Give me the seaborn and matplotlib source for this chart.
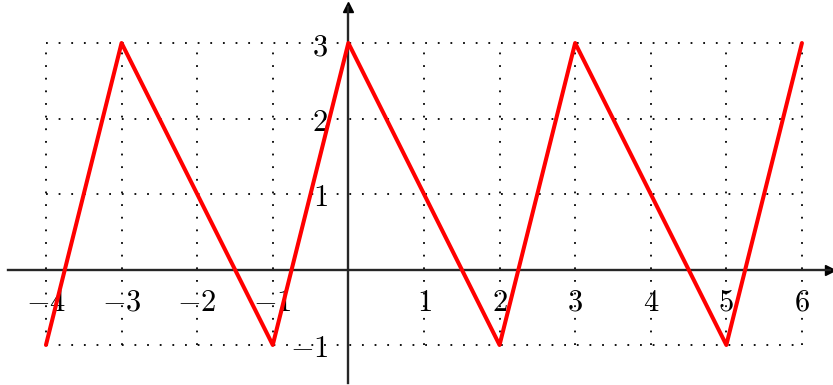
import matplotlib
matplotlib.use("Agg")
import matplotlib.pyplot as plt
import seaborn as sns
import pandas as pd

# zigzag vertices
x_vals = [-4, -3, -1, 0, 2, 3, 5, 6]
y_vals = [-1, 3, -1, 3, -1, 3, -1, 3]

x_ticks = [-4, -3, -2, -1, 1, 2, 3, 4, 5, 6]
y_ticks = [-1, 1, 2, 3]
grid_x = [-4, -3, -2, -1, 0, 1, 2, 3, 4, 5, 6]
grid_y = [-1, 0, 1, 2, 3]

sns.set_style("white")
plt.rcParams["mathtext.fontset"] = "cm"
plt.rcParams["font.family"] = ["DejaVu Serif"]

df = pd.DataFrame({"x": x_vals, "y": y_vals})

fig = plt.figure(figsize=(8.33, 3.85), dpi=100)
ax = fig.add_axes([0, 0, 1, 1])
ax.set_xlim(-4.608, 6.411)
ax.set_ylim(-1.53, 3.57)
ax.patch.set_alpha(0)

# dotted grid only over the data box
dot = (0, (1, 6))
ax.vlines(grid_x, min(grid_y), max(grid_y), colors="black", linewidth=1.3,
          linestyles=[dot], zorder=1)
ax.hlines(grid_y, min(grid_x), max(grid_x), colors="black", linewidth=1.3,
          linestyles=[dot], zorder=1)

sns.lineplot(data=df, x="x", y="y", color="red", linewidth=2.9, ax=ax,
             sort=False, zorder=3)

for s in ["top", "right"]:
    ax.spines[s].set_visible(False)
ax.spines["left"].set_position(("data", 0))
ax.spines["bottom"].set_position(("data", 0))
ax.spines["left"].set_bounds(-1.51, 3.48)
ax.spines["bottom"].set_bounds(-4.5, 6.37)
for s in ["left", "bottom"]:
    ax.spines[s].set_linewidth(1.7)
    ax.spines[s].set_zorder(2)

ax.plot(6.37, 0, ">k", markersize=7, clip_on=False)
ax.plot(0, 3.48, "^k", markersize=7, clip_on=False)

ax.set_xticks(x_ticks)
ax.set_yticks(y_ticks)
ax.set_xticklabels([f"${v}$" for v in x_ticks])
ax.set_yticklabels([f"${v}$" for v in y_ticks])
ax.tick_params(axis="both", direction="inout", length=7, width=0.9,
               labelsize=22, colors="black")
ax.tick_params(axis="x", pad=9)
ax.tick_params(axis="y", pad=11)
ax.set_xlabel("")
ax.set_ylabel("")

fig.savefig("out.png", dpi=100)
